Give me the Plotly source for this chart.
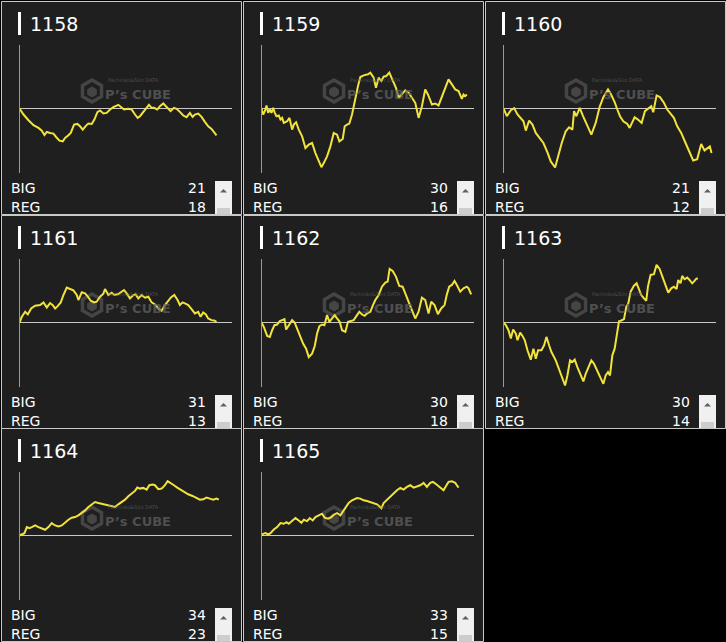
import plotly.graph_objects as go

W, H = 726, 642

machines = ["1158", "1159", "1160", "1161", "1162", "1163", "1164", "1165"]
big_counts = [21, 30, 21, 31, 30, 30, 34, 33]
reg_counts = [18, 16, 12, 13, 18, 14, 23, 15]

# games (x) and coin difference (y) for each machine
x_1158 = [0, 120, 270, 420, 570, 670, 750, 820, 920, 1020,
          1100, 1200, 1300, 1370, 1470, 1540, 1640, 1740, 1820, 1900,
          2000, 2070, 2170, 2250, 2340, 2420, 2520, 2620, 2720, 2820,
          2970, 3070, 3140, 3270, 3370, 3470, 3550, 3620, 3700, 3790,
          3890, 3970, 4040, 4140, 4220, 4320, 4420, 4540, 4640, 4720,
          4820, 4920, 5020, 5120, 5200, 5270, 5370, 5470, 5570, 5670,
          5770, 5850, 5920]
y_1158 = [0, -180, -350, -500, -580, -660, -790, -700, -730, -750,
          -850, -960, -980, -880, -800, -730, -480, -460, -530, -630,
          -510, -450, -460, -330, -110, -60, -150, -130, -30, 40,
          110, 20, -30, -10, -30, -180, -280, -230, -130, -30,
          110, 20, 20, -30, 70, 150, 40, -80, 20, -10,
          -100, -210, -260, -130, -250, -180, -150, -250, -400, -530,
          -610, -710, -800]

x_1159 = [0, 50, 100, 150, 200, 250, 300, 350, 400, 450,
          520, 570, 620, 670, 770, 840, 920, 970, 1040, 1120,
          1220, 1320, 1420, 1520, 1620, 1720, 1800, 1870, 1970, 2070,
          2170, 2270, 2340, 2440, 2500, 2570, 2640, 2720, 2800, 2900,
          2970, 3070, 3200, 3270, 3370, 3440, 3520, 3600, 3670, 3750,
          3840, 3940, 4040, 4120, 4220, 4320, 4420, 4520, 4620, 4720,
          4820, 4920, 5000, 5120, 5220, 5320, 5420, 5520, 5620, 5720,
          5820, 5920, 6020, 6070, 6120, 6170]
y_1159 = [0, -180, -80, 90, -130, -30, -130, 20, -130, -230,
          -210, -330, -280, -430, -380, -280, -630, -480, -410, -630,
          -830, -1180, -1080, -1030, -1330, -1580, -1750, -1630, -1430, -1130,
          -730, -780, -980, -910, -530, -480, -450, -180, 220, 670,
          940, 990, 1020, 1070, 920, 620, 920, 820, 950, 970,
          1070, 870, 620, 320, 420, 540, 470, 320, 170, -280,
          70, 570, 420, 120, 150, 90, 370, 590, 870, 720,
          570, 520, 290, 420, 370, 420]

x_1160 = [0, 100, 220, 320, 420, 520, 600, 670, 770, 870,
          970, 1070, 1200, 1320, 1420, 1550, 1640, 1750, 1870, 1970,
          2070, 2120, 2190, 2290, 2390, 2520, 2640, 2770, 2890, 3000,
          3140, 3220, 3340, 3420, 3500, 3600, 3720, 3790, 3870, 3940,
          4040, 4150, 4250, 4340, 4440, 4500, 4600, 4700, 4820, 4920,
          5020, 5120, 5220, 5340, 5470, 5570, 5700, 5820, 5940, 6040,
          6120, 6200, 6250]
y_1160 = [0, -230, -50, 10, -180, -310, -380, -660, -360, -480,
          -730, -860, -1030, -1310, -1580, -1760, -1430, -1030, -680, -560,
          -630, -80, -230, 20, -230, -530, -780, -430, 50, 340,
          570, 440, 190, -30, -230, -380, -460, -580, -380, -260,
          -330, -430, -80, 0, 70, -110, 390, 340, 170, -30,
          -160, -280, -530, -730, -1030, -1280, -1550, -1510, -1060, -1250,
          -1180, -1130, -1330]

x_1161 = [0, 70, 170, 250, 350, 470, 620, 720, 820, 920,
          1000, 1070, 1140, 1240, 1320, 1420, 1520, 1620, 1720, 1770,
          1870, 1970, 2040, 2140, 2240, 2320, 2420, 2520, 2570, 2670,
          2770, 2850, 2970, 3070, 3140, 3220, 3320, 3420, 3490, 3570,
          3670, 3770, 3870, 3970, 4070, 4170, 4270, 4370, 4470, 4550,
          4650, 4750, 4820, 4900, 4970, 5070, 5170, 5270, 5370, 5440,
          5520, 5600, 5670, 5770, 5850, 5920]
y_1161 = [0, 170, 320, 240, 420, 500, 520, 600, 450, 580,
          520, 420, 480, 600, 820, 1040, 1000, 960, 820, 670,
          900, 870, 790, 650, 600, 620, 770, 860, 1000, 820,
          890, 820, 850, 930, 970, 870, 720, 820, 840, 720,
          820, 740, 770, 600, 540, 420, 350, 520, 670, 750,
          820, 670, 520, 600, 570, 520, 400, 270, 320, 170,
          300, 240, 120, 70, 60, 20]

x_1162 = [0, 70, 170, 250, 320, 390, 470, 550, 620, 690,
          740, 820, 920, 1000, 1070, 1170, 1250, 1340, 1420, 1520,
          1600, 1670, 1740, 1820, 1890, 1970, 2040, 2120, 2200, 2270,
          2350, 2420, 2520, 2600, 2670, 2770, 2870, 2940, 3020, 3100,
          3170, 3270, 3350, 3420, 3520, 3620, 3720, 3790, 3850, 3940,
          4040, 4140, 4240, 4340, 4450, 4540, 4620, 4720, 4820, 4920,
          5020, 5100, 5200, 5300, 5400, 5500, 5570, 5640, 5720, 5800,
          5870, 5970, 6070, 6170, 6220, 6300]
y_1162 = [0, -130, -400, -430, -230, -80, -60, 40, 70, 100,
          -210, -100, 70, -10, -180, -380, -630, -780, -1030, -930,
          -700, -330, -110, -60, -80, 220, 20, 120, 220, 120,
          20, -230, -280, 20, 40, 70, 220, 320, 240, 200,
          270, 320, 520, 670, 820, 1070, 1190, 1220, 1600, 1540,
          1370, 1090, 1070, 800, 520, 320, 120, 320, 740, 670,
          270, 620, 520, 250, 420, 520, 840, 1070, 1120, 1240,
          1120, 920, 1020, 1070, 1020, 840]

x_1163 = [0, 70, 150, 220, 290, 370, 420, 500, 570, 640,
          720, 820, 900, 970, 1040, 1140, 1220, 1290, 1370, 1440,
          1570, 1670, 1770, 1850, 1920, 2000, 2070, 2140, 2220, 2320,
          2400, 2470, 2550, 2640, 2720, 2820, 2920, 3000, 3070, 3140,
          3200, 3270, 3340, 3400, 3470, 3540, 3620, 3690, 3750, 3820,
          3920, 4000, 4070, 4140, 4220, 4290, 4340, 4420, 4520, 4600,
          4690, 4770, 4870, 4950, 5040, 5120, 5200, 5250, 5320, 5370,
          5440, 5520, 5590, 5670, 5720, 5790, 5840]
y_1163 = [0, -80, -230, -480, -210, -330, -530, -300, -400, -530,
          -830, -1110, -780, -1080, -830, -830, -680, -430, -680, -880,
          -1130, -1380, -1630, -1880, -1580, -1130, -1180, -1110, -1330, -1580,
          -1760, -1530, -1330, -1130, -1230, -1430, -1630, -1830, -1580, -1480,
          -1580, -980, -780, -380, 40, 60, 100, 470, 570, 920,
          1100, 1170, 1000, 820, 720, 650, 1070, 1420, 1440, 1720,
          1600, 1400, 1150, 890, 1020, 1070, 1000, 1270, 1170, 1390,
          1290, 1340, 1270, 1170, 1220, 1300, 1320]

x_1164 = [0, 70, 150, 220, 300, 370, 470, 570, 670, 770,
          870, 970, 1070, 1170, 1270, 1370, 1470, 1570, 1670, 1770,
          1870, 1970, 2070, 2170, 2270, 2370, 2470, 2570, 2670, 2770,
          2870, 2970, 3070, 3170, 3270, 3370, 3470, 3540, 3620, 3720,
          3820, 3900, 4000, 4070, 4170, 4270, 4370, 4450, 4540, 4640,
          4740, 4840, 4940, 5070, 5200, 5320, 5420, 5520, 5620, 5720,
          5820, 5920, 5990]
y_1164 = [0, 30, 70, 250, 220, 250, 300, 250, 200, 170,
          250, 370, 300, 270, 300, 400, 470, 530, 550, 600,
          670, 750, 850, 930, 1000, 970, 950, 930, 900, 880,
          850, 930, 1000, 1070, 1170, 1250, 1330, 1430, 1400, 1420,
          1370, 1500, 1520, 1500, 1380, 1400, 1500, 1620, 1570, 1500,
          1430, 1370, 1300, 1230, 1180, 1130, 1070, 1080, 1130, 1100,
          1070, 1100, 1070]

x_1165 = [0, 50, 120, 200, 270, 370, 470, 570, 670, 750,
          820, 920, 1020, 1120, 1200, 1270, 1370, 1450, 1540, 1620,
          1720, 1820, 1900, 2000, 2100, 2170, 2270, 2370, 2470, 2540,
          2620, 2720, 2870, 2970, 3070, 3170, 3270, 3370, 3470, 3540,
          3600, 3670, 3770, 3870, 3970, 4070, 4170, 4270, 4370, 4470,
          4570, 4670, 4770, 4870, 4970, 5070, 5150, 5250, 5370, 5470,
          5540, 5620, 5720, 5820, 5870, 5920]
y_1165 = [0, 50, 70, 30, 70, 180, 250, 370, 350, 400,
          350, 430, 520, 450, 380, 470, 430, 520, 450, 550,
          600, 650, 530, 500, 550, 620, 670, 600, 750, 850,
          970, 1050, 1120, 1100, 1050, 1030, 1000, 970, 930, 870,
          810, 970, 1070, 1150, 1270, 1350, 1420, 1370, 1450, 1500,
          1430, 1470, 1500, 1570, 1450, 1570, 1600, 1530, 1430, 1350,
          1470, 1600, 1620, 1570, 1500, 1430]

series_x = [x_1158, x_1159, x_1160, x_1161, x_1162, x_1163, x_1164, x_1165]
series_y = [y_1158, y_1159, y_1160, y_1161, y_1162, y_1163, y_1164, y_1165]

X_RANGE = [0, 6370]
Y_RANGE = [-1910, 1910]

# ---- layout geometry (pixels) ----
COL_LEFT = [1, 243, 485]
ROW_TOP = [1, 215, 428]
PANEL_W, PANEL_H = 240, 213

PANEL_BG = "#1f1f1f"
BORDER = "#c8c8c8"
LINE_COLOR = "#f2e23c"
WM = "#454545"
FONT = "DejaVu Sans"


def fx(px):
    return px / W


def fy(py):
    return 1 - py / H


fig = go.Figure()
shapes = []
annotations = []
layout_axes = {}

for i, name in enumerate(machines):
    r, c = divmod(i, 3)
    L, T = COL_LEFT[c], ROW_TOP[r]
    ax = "" if i == 0 else str(i + 1)

    # panel background and border
    shapes.append(dict(type="rect", xref="paper", yref="paper",
                       x0=fx(L + 0.5), x1=fx(L + PANEL_W + 0.5),
                       y0=fy(T + 0.5), y1=fy(T + PANEL_H + 0.5),
                       fillcolor=PANEL_BG, line=dict(color=BORDER, width=1),
                       layer="below"))
    # title bar
    shapes.append(dict(type="rect", xref="paper", yref="paper",
                       x0=fx(L + 17), x1=fx(L + 20),
                       y0=fy(T + 11), y1=fy(T + 34),
                       fillcolor="#ffffff", line=dict(width=0), layer="above"))
    # watermark hexagon icon
    cx, cy, rad = L + 91, T + 90, 11
    pts = [(0, -rad), (rad * 0.866, -rad / 2), (rad * 0.866, rad / 2),
           (0, rad), (-rad * 0.866, rad / 2), (-rad * 0.866, -rad / 2)]
    path = "M " + " L ".join(f"{fx(cx + dx)},{fy(cy + dy)}" for dx, dy in pts) + " Z"
    shapes.append(dict(type="path", xref="paper", yref="paper", path=path,
                       line=dict(color=WM, width=3.5), fillcolor="rgba(0,0,0,0)",
                       layer="below"))
    r2 = 5
    pts2 = [(0, -r2), (r2 * 0.866, -r2 / 2), (r2 * 0.866, r2 / 2),
            (0, r2), (-r2 * 0.866, r2 / 2), (-r2 * 0.866, -r2 / 2)]
    path2 = "M " + " L ".join(f"{fx(cx + dx)},{fy(cy + 1 + dy)}" for dx, dy in pts2) + " Z"
    shapes.append(dict(type="path", xref="paper", yref="paper", path=path2,
                       line=dict(color=WM, width=1), fillcolor=WM, layer="below"))

    # scrollbar
    shapes.append(dict(type="rect", xref="paper", yref="paper",
                       x0=fx(L + 214), x1=fx(L + 231),
                       y0=fy(T + 180), y1=fy(T + PANEL_H),
                       fillcolor="#f0f0f0", line=dict(width=0), layer="above"))
    shapes.append(dict(type="rect", xref="paper", yref="paper",
                       x0=fx(L + 216), x1=fx(L + 229),
                       y0=fy(T + 207), y1=fy(T + PANEL_H),
                       fillcolor="#cdcdcd", line=dict(width=0), layer="above"))
    tri = (f"M {fx(L + 219)},{fy(T + 191.5)} L {fx(L + 226)},{fy(T + 191.5)} "
           f"L {fx(L + 222.5)},{fy(T + 188)} Z")
    shapes.append(dict(type="path", xref="paper", yref="paper", path=tri,
                       fillcolor="#606060", line=dict(width=0), layer="above"))

    # axes
    layout_axes["xaxis" + ax] = dict(
        domain=[fx(L + 18.5), fx(L + 230.5)], range=X_RANGE, anchor="y" + ax,
        showgrid=False, zeroline=False, showline=False, showticklabels=False,
        ticks="", fixedrange=True)
    layout_axes["yaxis" + ax] = dict(
        domain=[fy(T + 171.5), fy(T + 43.5)], range=Y_RANGE, anchor="x" + ax,
        showgrid=False, zeroline=True, zerolinecolor="#c8c8c8", zerolinewidth=1,
        showline=True, linecolor="#9a9a9a", linewidth=1, showticklabels=False,
        ticks="", fixedrange=True)

    fig.add_trace(go.Scatter(x=series_x[i], y=series_y[i], mode="lines",
                             line=dict(color=LINE_COLOR, width=2),
                             xaxis="x" + ax, yaxis="y" + ax,
                             hoverinfo="skip", showlegend=False))

    # texts
    annotations.append(dict(text=name, xref="paper", yref="paper",
                            x=fx(L + 27), y=fy(T + 23), xanchor="left", yanchor="middle",
                            showarrow=False, font=dict(family=FONT, size=19, color="#ffffff")))
    annotations.append(dict(text="BIG", xref="paper", yref="paper",
                            x=fx(L + 8), y=fy(T + 187), xanchor="left", yanchor="middle",
                            showarrow=False, font=dict(family=FONT, size=14, color="#ffffff")))
    annotations.append(dict(text="REG", xref="paper", yref="paper",
                            x=fx(L + 8), y=fy(T + 206), xanchor="left", yanchor="middle",
                            showarrow=False, font=dict(family=FONT, size=14, color="#ffffff")))
    annotations.append(dict(text=str(big_counts[i]), xref="paper", yref="paper",
                            x=fx(L + 207), y=fy(T + 187), xanchor="right", yanchor="middle",
                            showarrow=False, font=dict(family=FONT, size=14, color="#ffffff")))
    annotations.append(dict(text=str(reg_counts[i]), xref="paper", yref="paper",
                            x=fx(L + 207), y=fy(T + 206), xanchor="right", yanchor="middle",
                            showarrow=False, font=dict(family=FONT, size=14, color="#ffffff")))
    # watermark text
    annotations.append(dict(text="<b>P’s CUBE</b>", xref="paper", yref="paper",
                            x=fx(L + 137), y=fy(T + 93), xanchor="center", yanchor="middle",
                            showarrow=False, borderpad=0,
                            font=dict(family=FONT, size=13, color="rgba(95,95,95,0.75)")))
    annotations.append(dict(text="Pachinko&Slot DATA", xref="paper", yref="paper",
                            x=fx(L + 106), y=fy(T + 79), xanchor="left", yanchor="middle",
                            showarrow=False, borderpad=0,
                            font=dict(family=FONT, size=5, color="rgba(95,95,95,0.75)")))

fig.update_layout(
    width=W, height=H,
    margin=dict(l=0, r=0, t=0, b=0),
    paper_bgcolor="#000000",
    plot_bgcolor="rgba(0,0,0,0)",
    shapes=shapes,
    annotations=annotations,
    showlegend=False,
    **layout_axes,
)

fig.write_html("out.html", config={"displayModeBar": False})
